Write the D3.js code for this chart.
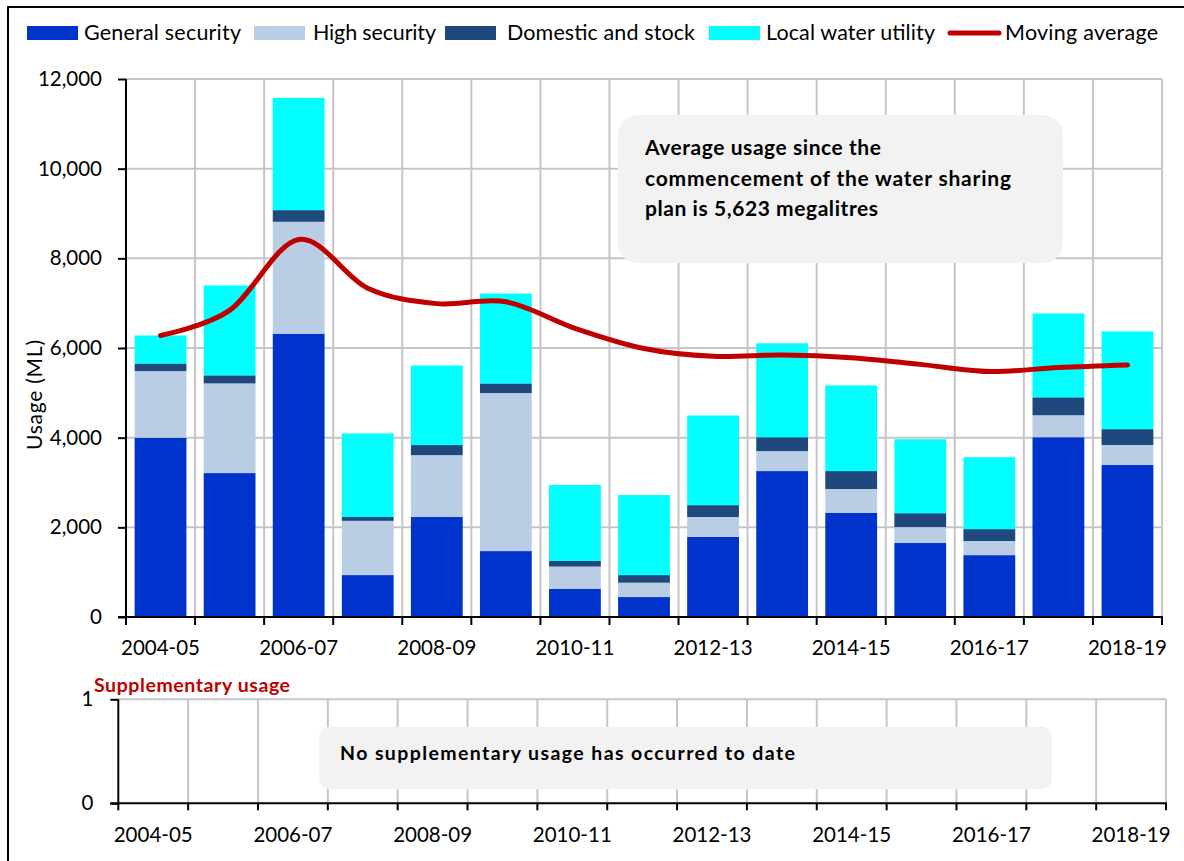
<!DOCTYPE html>
<html><head><meta charset="utf-8">
<script src="https://cdn.jsdelivr.net/npm/d3@7"></script>
<style>
html,body{margin:0;padding:0;background:#fff;}
svg{display:block;font-family:Lato,"Open Sans",sans-serif;}
</style></head>
<body><svg id="chart" width="1184" height="861"></svg>
<script>
// ---------- data ----------
const categories = ["2004-05","2005-06","2006-07","2007-08","2008-09","2009-10","2010-11","2011-12","2012-13","2013-14","2014-15","2015-16","2016-17","2017-18","2018-19"];
const generalSecurity = [4000,3210,6320,935,2230,1470,625,445,1785,3255,2320,1650,1380,4010,3390];
const highSecurity    = [1485,2000,2495,1210,1380,3525,500,320,445,445,535,355,315,490,445];
const domesticStock   = [170,180,260,85,225,215,125,170,265,310,400,310,265,400,355];
const localWaterUtility = [625,2005,2505,1865,1775,2005,1695,1785,2000,2095,1910,1650,1605,1870,2180];
const movingAverage   = [6280,6840,8420,7335,6990,7030,6440,5990,5815,5845,5785,5635,5475,5565,5623];
const supplementaryUsage = [0,0,0,0,0,0,0,0,0,0,0,0,0,0,0];
const yTicks = [0,2000,4000,6000,8000,10000,12000];
const suppTicks = [0,1];
const xLabels = ["2004-05","2006-07","2008-09","2010-11","2012-13","2014-15","2016-17","2018-19"];
const seriesNames = ["General security","High security","Domestic and stock","Local water utility"];
const seriesColors = ["#0033CC","#B9CDE5","#1F497D","#00FFFF"];
const lineName = "Moving average";
const lineColor = "#C00000";
const noteMain = ["Average usage since the","commencement of the water sharing","plan is 5,623 megalitres"];
const noteSupp = "No supplementary usage has occurred to date";
const suppTitle = "Supplementary usage";
const yTitle = "Usage (ML)";

// ---------- setup ----------
const svg = d3.select("#chart");
const FS = 20.5;
const gridColor = "#C6C6C6";

// outer frame
svg.append("rect").attr("x",8).attr("y",7).attr("width",1300).attr("height",1000)
  .attr("fill","none").attr("stroke","#000").attr("stroke-width",2);

// ---------- main chart ----------
const M = {left:126, right:1162, top:79, bottom:617};
const x = d3.scaleBand().domain(categories).range([M.left, M.right]).paddingInner(0.25).paddingOuter(0.125);
const xb = d3.scaleLinear().domain([0, categories.length]).range([M.left, M.right]);
const y = d3.scaleLinear().domain([0,12000]).range([M.bottom, M.top]);

const gMain = svg.append("g");
gMain.append("g").selectAll("line").data(yTicks.filter(d=>d>0)).join("line")
  .attr("x1",M.left).attr("x2",M.right).attr("y1",d=>y(d)).attr("y2",d=>y(d))
  .attr("stroke",gridColor).attr("stroke-width",2);
gMain.append("g").selectAll("line").data(d3.range(1, categories.length+1)).join("line")
  .attr("x1",d=>xb(d)).attr("x2",d=>xb(d)).attr("y1",M.top).attr("y2",M.bottom)
  .attr("stroke",gridColor).attr("stroke-width",2);

// stacked bars
const rows = categories.map((c,i)=>({cat:c, gs:generalSecurity[i], hs:highSecurity[i], ds:domesticStock[i], lw:localWaterUtility[i]}));
const keys = ["gs","hs","ds","lw"];
const stacked = d3.stack().keys(keys)(rows);
gMain.append("g").selectAll("g").data(stacked).join("g")
  .attr("fill",(d,i)=>seriesColors[i])
  .selectAll("rect").data(d=>d).join("rect")
  .attr("x",d=>x(d.data.cat)).attr("width",x.bandwidth())
  .attr("y",d=>y(d[1])).attr("height",d=>y(d[0])-y(d[1]));

// moving average line
const line = d3.line().x((d,i)=>x(categories[i])+x.bandwidth()/2).y(d=>y(d)).curve(d3.curveCardinal.tension(0));
gMain.append("path").datum(movingAverage).attr("d",line)
  .attr("fill","none").attr("stroke",lineColor).attr("stroke-width",5).attr("stroke-linecap","round").attr("stroke-linejoin","round");

// y axis
const yAxis = d3.axisLeft(y).tickValues(yTicks).tickFormat(d3.format(",")).tickSize(8).tickPadding(16);
const gy = gMain.append("g").attr("transform",`translate(${M.left},0)`).call(yAxis);
gy.select(".domain").remove();
gy.selectAll(".tick line").attr("stroke","#000").attr("stroke-width",2);
gy.selectAll("text").attr("font-size",FS).attr("fill","#000").attr("font-family","Lato");
gMain.append("line").attr("x1",M.left).attr("x2",M.left).attr("y1",M.top).attr("y2",M.bottom+1).attr("stroke","#000").attr("stroke-width",2);

// x axis
gMain.append("line").attr("x1",M.left-8).attr("x2",M.right+1).attr("y1",M.bottom).attr("y2",M.bottom).attr("stroke","#000").attr("stroke-width",2);
gMain.append("g").selectAll("line").data(d3.range(0, categories.length+1)).join("line")
  .attr("x1",d=>xb(d)).attr("x2",d=>xb(d)).attr("y1",M.bottom).attr("y2",M.bottom+8)
  .attr("stroke","#000").attr("stroke-width",2);
gMain.append("g").selectAll("text").data(xLabels).join("text")
  .attr("x",d=>x(d)+x.bandwidth()/2).attr("y",655).attr("text-anchor","middle")
  .attr("font-size",FS).attr("fill","#000").text(d=>d);

// y title
svg.append("text").attr("transform","translate(42,395) rotate(-90)").attr("text-anchor","middle")
  .attr("font-size",FS+0.5).attr("fill","#000").attr("textLength",110).attr("lengthAdjust","spacing").text(yTitle);

// annotation box
const noteWidths = [236,366,233];
gMain.append("rect").attr("x",618).attr("y",115).attr("width",445).attr("height",148).attr("rx",20)
  .attr("fill","#F2F2F2");
gMain.append("g").selectAll("text").data(noteMain).join("text")
  .attr("x",645).attr("y",(d,i)=>155+i*30.5).attr("font-size",21).attr("font-weight","bold").attr("fill","#000")
  .attr("textLength",(d,i)=>noteWidths[i]).attr("lengthAdjust","spacing").text(d=>d);

// ---------- legend ----------
const legendItems = [
  {name:seriesNames[0], color:seriesColors[0], sx:27, tx:84, w:157},
  {name:seriesNames[1], color:seriesColors[1], sx:254, tx:313, w:123},
  {name:seriesNames[2], color:seriesColors[2], sx:445, tx:507, w:188},
  {name:seriesNames[3], color:seriesColors[3], sx:709, tx:766, w:169},
];
const gL = svg.append("g");
gL.selectAll("rect").data(legendItems).join("rect")
  .attr("x",d=>d.sx).attr("y",26).attr("width",51).attr("height",14).attr("fill",d=>d.color);
gL.selectAll("text.l").data(legendItems).join("text").attr("class","l")
  .attr("x",d=>d.tx).attr("y",39.5).attr("font-size",21.5).attr("fill","#000")
  .attr("textLength",d=>d.w).attr("lengthAdjust","spacing").text(d=>d.name);
gL.append("line").attr("x1",950).attr("x2",999).attr("y1",33).attr("y2",33)
  .attr("stroke",lineColor).attr("stroke-width",5).attr("stroke-linecap","round");
gL.append("text").attr("x",1005).attr("y",39.5).attr("font-size",21.5).attr("fill","#000")
  .attr("textLength",153).attr("lengthAdjust","spacing").text(lineName);

// ---------- supplementary chart ----------
const S = {left:118.3, right:1166, top:699.3, bottom:803.3};
const x2 = d3.scaleBand().domain(categories).range([S.left, S.right]).paddingInner(0.25).paddingOuter(0.125);
const xb2 = d3.scaleLinear().domain([0, categories.length]).range([S.left, S.right]);
const y2 = d3.scaleLinear().domain([0,1]).range([S.bottom, S.top]);
const gS = svg.append("g");
gS.append("line").attr("x1",S.left).attr("x2",S.right).attr("y1",S.top).attr("y2",S.top).attr("stroke",gridColor).attr("stroke-width",2);
gS.append("g").selectAll("line").data(d3.range(1, categories.length+1)).join("line")
  .attr("x1",d=>xb2(d)).attr("x2",d=>xb2(d)).attr("y1",S.top).attr("y2",S.bottom)
  .attr("stroke",gridColor).attr("stroke-width",2);
gS.append("g").selectAll("rect").data(supplementaryUsage).join("rect")
  .attr("x",(d,i)=>x2(categories[i])).attr("width",x2.bandwidth())
  .attr("y",d=>y2(d)).attr("height",d=>y2(0)-y2(d)).attr("fill",lineColor);

gS.append("rect").attr("x",319.3).attr("y",726.7).attr("width",732.4).attr("height",62.6).attr("rx",10).attr("fill","#F2F2F2");
gS.append("text").attr("x",340).attr("y",760).attr("font-size",19.5).attr("font-weight","bold").attr("fill","#000")
  .attr("textLength",455).attr("lengthAdjust","spacing").text(noteSupp);

const y2Axis = d3.axisLeft(y2).tickValues(suppTicks).tickFormat(d3.format("d")).tickSize(8).tickPadding(17);
const gy2 = gS.append("g").attr("transform",`translate(${S.left},0)`).call(y2Axis);
gy2.select(".domain").remove();
gy2.selectAll(".tick line").attr("stroke","#000").attr("stroke-width",2);
gy2.selectAll("text").attr("font-size",FS).attr("fill","#000").attr("font-family","Lato");
gS.append("line").attr("x1",S.left).attr("x2",S.left).attr("y1",S.top).attr("y2",S.bottom+1).attr("stroke","#000").attr("stroke-width",2);
gS.append("line").attr("x1",S.left-8).attr("x2",S.right+1).attr("y1",S.bottom).attr("y2",S.bottom).attr("stroke","#000").attr("stroke-width",2);
gS.append("g").selectAll("line").data(d3.range(0, categories.length+1)).join("line")
  .attr("x1",d=>xb2(d)).attr("x2",d=>xb2(d)).attr("y1",S.bottom).attr("y2",S.bottom+7)
  .attr("stroke","#000").attr("stroke-width",2);
gS.append("g").selectAll("text").data(xLabels).join("text")
  .attr("x",d=>x2(d)+x2.bandwidth()/2).attr("y",842).attr("text-anchor","middle")
  .attr("font-size",FS).attr("fill","#000").text(d=>d);
gS.append("text").attr("x",94).attr("y",692).attr("font-size",19.5).attr("font-weight","bold").attr("fill",lineColor)
  .attr("textLength",196).attr("lengthAdjust","spacing").text(suppTitle);
</script></body></html>
